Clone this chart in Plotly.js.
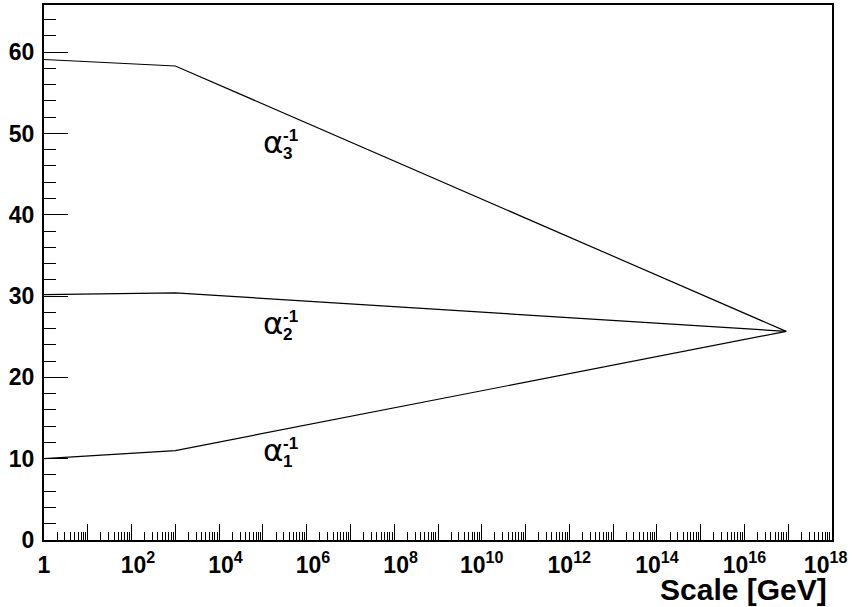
<!DOCTYPE html>
<html>
<head>
<meta charset="utf-8">
<script src="https://cdn.plot.ly/plotly-3.0.1.min.js"></script>
<style>html,body{margin:0;padding:0;background:#fff;}#chart{width:852px;height:607px;}</style>
</head>
<body>
<div id="chart"></div>
<script>
// Scale points [GeV]: low scale, SUSY threshold, unification point
var scale = [1, 1000, 9e16];
// inverse couplings at those scales
var alpha1inv = [10.0, 11.0, 25.66];
var alpha2inv = [30.17, 30.4, 25.66];
var alpha3inv = [59.1, 58.3, 25.66];
var labelNames = ['3', '2', '1'];
var labelY = [49.0, 26.75, 11.1];
var labelX = 1.7e5;
var yTicks = [0, 10, 20, 30, 40, 50, 60];
var xDecades = [0,1,2,3,4,5,6,7,8,9,10,11,12,13,14,15,16,17,18];

var lineStyle = {color: '#000', width: 1.2};
var traces = [alpha1inv, alpha2inv, alpha3inv].map(function (v) {
  return {x: scale, y: v, type: 'scatter', mode: 'lines', line: lineStyle, hoverinfo: 'skip', showlegend: false};
});

function sup(d) { return '<sup>' + d + '</sup>'; }
var xTickVals = xDecades.map(function (d) { return Math.pow(10, d); });
var xTickText = xDecades.map(function (d) {
  if (d === 0) return '1';
  if (d % 2) return '';
  if (d < 10) return '\u00a0\u00a010' + sup(d);
  if (d === 18) return '10' + sup(d) + '\u00a0\u00a0';
  return '10' + sup(d);
});
var xMinor = [];
xDecades.slice(0, -1).forEach(function (d) {
  for (var k = 2; k <= 9; k++) xMinor.push(k * Math.pow(10, d));
});

var tickFont = {family: 'Liberation Sans, Arial, sans-serif', size: 23, color: '#000', weight: 700};

var annotations = [];
labelNames.forEach(function (n, i) {
  var lx = Math.log10(labelX);
  annotations.push({x: lx, y: labelY[i], xref: 'x', yref: 'y', text: '\u03b1', showarrow: false,
    xanchor: 'center', yanchor: 'middle',
    font: {family: 'DejaVu Sans, sans-serif', size: 31, color: '#000'}});
  annotations.push({x: lx, y: labelY[i], xref: 'x', yref: 'y', text: '-1', showarrow: false,
    xanchor: 'center', yanchor: 'middle', xshift: 18, yshift: 6,
    font: {family: 'Liberation Sans, Arial, sans-serif', size: 17, color: '#000', weight: 700}});
  annotations.push({x: lx, y: labelY[i], xref: 'x', yref: 'y', text: n, showarrow: false,
    xanchor: 'center', yanchor: 'middle', xshift: 15, yshift: -12,
    font: {family: 'Liberation Sans, Arial, sans-serif', size: 17, color: '#000', weight: 700}});
});
annotations.push({x: 1, y: 0, xref: 'paper', yref: 'paper', text: 'Scale [GeV]', showarrow: false,
  xanchor: 'right', yanchor: 'top', xshift: -3, yshift: -31,
  font: {family: 'Liberation Sans, Arial, sans-serif', size: 30, color: '#000', weight: 700}});

var layout = {
  width: 852, height: 607,
  margin: {l: 44, r: 20, t: 5, b: 67},
  paper_bgcolor: '#fff', plot_bgcolor: '#fff',
  showlegend: false,
  xaxis: {
    type: 'log', range: [0, 18.0002],
    tickmode: 'array', tickvals: xTickVals, ticktext: xTickText,
    ticks: 'inside', ticklen: 16, tickwidth: 1, tickcolor: '#000',
    minor: {tickmode: 'array', tickvals: xMinor, ticks: 'inside', ticklen: 8, tickwidth: 1, tickcolor: '#000', showgrid: false},
    showgrid: false, zeroline: false,
    showline: true, linecolor: '#000', linewidth: 2, mirror: true,
    tickfont: tickFont, ticklabelstandoff: 3, ticklabeloverflow: 'allow'
  },
  yaxis: {
    range: [0, 65.8],
    tickmode: 'array', tickvals: yTicks,
    ticks: 'inside', ticklen: 24, tickwidth: 1, tickcolor: '#000',
    minor: {dtick: 2, ticks: 'inside', ticklen: 12, tickwidth: 1, tickcolor: '#000', showgrid: false},
    showgrid: false, zeroline: false,
    showline: true, linecolor: '#000', linewidth: 2, mirror: true,
    tickfont: tickFont, ticklabelstandoff: 3
  },
  annotations: annotations
};

Plotly.newPlot('chart', traces, layout, {displayModeBar: false, staticPlot: true});
</script>
</body>
</html>
